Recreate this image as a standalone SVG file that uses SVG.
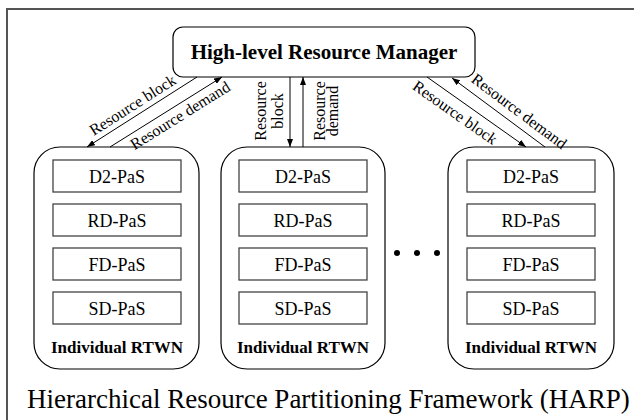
<svg xmlns="http://www.w3.org/2000/svg" width="634" height="420" viewBox="0 0 634 420">
  <defs>
    <marker id="arrow" markerUnits="userSpaceOnUse" markerWidth="8" markerHeight="6" refX="8" refY="3" orient="auto">
      <path d="M0,0 L8,3 L0,6 z" fill="#000"/>
    </marker>
    <style>
      .frame { fill: none; stroke: #555; stroke-width: 2; }
      .mgr { fill: #fff; stroke: #000; stroke-width: 1.2; }
      .net { fill: #fff; stroke: #000; stroke-width: 1.2; }
      .pas { fill: #fff; stroke: #444; stroke-width: 1.3; }
      .conn { stroke: #000; stroke-width: 1; fill: none; marker-end: url(#arrow); }
      .lbl { font-family: "Liberation Serif", "Times New Roman", serif; font-size: 16px; fill: #000; text-anchor: middle; }
      .pas-t { font-family: "Liberation Serif", "Times New Roman", serif; font-size: 18px; fill: #000; text-anchor: middle; }
      .net-t { font-family: "Liberation Serif", "Times New Roman", serif; font-size: 17px; font-weight: bold; fill: #000; text-anchor: middle; }
      .mgr-t { font-family: "Liberation Serif", "Times New Roman", serif; font-size: 21px; font-weight: bold; fill: #000; text-anchor: middle; }
      .title { font-family: "Liberation Serif", "Times New Roman", serif; font-size: 27px; fill: #000; }
    </style>
  </defs>

  <rect width="634" height="420" fill="#fff"/>
  <!-- outer frame (top and left edges visible) -->
  <path class="frame" d="M7,430 L7,9 L640,9"/>

  <g id="manager">
    <rect class="mgr" x="173" y="27" width="302" height="50" rx="10"/>
    <text class="mgr-t" x="324" y="59">High-level Resource Manager</text>
  </g>

  <g id="rtwn-1">
    <rect class="net" x="34" y="147" width="165" height="222" rx="26"/>
    <rect class="pas" x="53" y="160" width="128" height="32"/>
    <text class="pas-t" x="117" y="183">D2-PaS</text>
    <rect class="pas" x="53" y="204" width="128" height="32"/>
    <text class="pas-t" x="117" y="227">RD-PaS</text>
    <rect class="pas" x="53" y="248" width="128" height="32"/>
    <text class="pas-t" x="117" y="271">FD-PaS</text>
    <rect class="pas" x="53" y="292" width="128" height="32"/>
    <text class="pas-t" x="117" y="315">SD-PaS</text>
    <text class="net-t" x="117" y="353">Individual RTWN</text>
  </g>

  <g id="rtwn-2">
    <rect class="net" x="221" y="147" width="164" height="222" rx="26"/>
    <rect class="pas" x="239" y="160" width="128" height="32"/>
    <text class="pas-t" x="303" y="183">D2-PaS</text>
    <rect class="pas" x="239" y="204" width="128" height="32"/>
    <text class="pas-t" x="303" y="227">RD-PaS</text>
    <rect class="pas" x="239" y="248" width="128" height="32"/>
    <text class="pas-t" x="303" y="271">FD-PaS</text>
    <rect class="pas" x="239" y="292" width="128" height="32"/>
    <text class="pas-t" x="303" y="315">SD-PaS</text>
    <text class="net-t" x="303" y="353">Individual RTWN</text>
  </g>

  <g id="rtwn-n">
    <rect class="net" x="448" y="147" width="166" height="222" rx="26"/>
    <rect class="pas" x="467" y="160" width="128" height="32"/>
    <text class="pas-t" x="531" y="183">D2-PaS</text>
    <rect class="pas" x="467" y="204" width="128" height="32"/>
    <text class="pas-t" x="531" y="227">RD-PaS</text>
    <rect class="pas" x="467" y="248" width="128" height="32"/>
    <text class="pas-t" x="531" y="271">FD-PaS</text>
    <rect class="pas" x="467" y="292" width="128" height="32"/>
    <text class="pas-t" x="531" y="315">SD-PaS</text>
    <text class="net-t" x="531" y="353">Individual RTWN</text>
  </g>

  <g id="ellipsis">
    <circle cx="397" cy="253" r="3"/>
    <circle cx="417" cy="253" r="3"/>
    <circle cx="437" cy="253" r="3"/>
  </g>

  <g id="connectors">
    <!-- left network -->
    <line class="conn" x1="197" y1="77" x2="87" y2="147"/>
    <line class="conn" x1="110" y1="147" x2="222" y2="77"/>
    <text class="lbl" transform="translate(135.5,109.5) rotate(-32.5)">Resource block</text>
    <text class="lbl" transform="translate(183,120) rotate(-32)">Resource demand</text>
    <!-- middle network -->
    <line class="conn" x1="290" y1="77" x2="290" y2="147"/>
    <line class="conn" x1="303" y1="147" x2="303" y2="77"/>
    <text class="lbl" transform="translate(266,111) rotate(-90)">Resource</text>
    <text class="lbl" transform="translate(283,111) rotate(-90)">block</text>
    <text class="lbl" transform="translate(325,111) rotate(-90)">Resource</text>
    <text class="lbl" transform="translate(338,111) rotate(-90)">demand</text>
    <!-- right network -->
    <line class="conn" x1="427" y1="77" x2="526" y2="147"/>
    <line class="conn" x1="545" y1="147" x2="452" y2="78"/>
    <text class="lbl" transform="translate(452,117) rotate(35)">Resource block</text>
    <text class="lbl" transform="translate(516,115.5) rotate(36.8)">Resource demand</text>
  </g>

  <text class="title" x="27" y="408">Hierarchical Resource Partitioning Framework (HARP)</text>
</svg>
